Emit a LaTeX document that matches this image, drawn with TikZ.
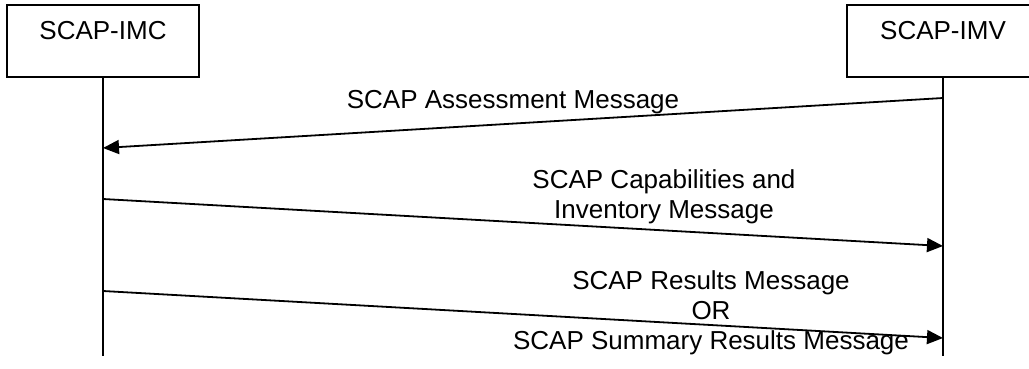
\documentclass[tikz,border=0pt]{standalone}
\usepackage{fontspec}
\setmainfont{Liberation Sans}
\usetikzlibrary{arrows.meta}
\tikzset{
  actor/.style={draw, line width=2pt, minimum width=192pt, minimum height=72pt, inner sep=0pt},
  lbl/.style={inner sep=0pt, align=center, font=\fontsize{26}{30}\selectfont},
  life/.style={line width=2pt},
  msg/.style={line width=1.8pt, -{Triangle[length=16pt,width=14pt]}}
}
\begin{document}
\begin{tikzpicture}[x=1pt,y=-1pt]
\useasboundingbox (0,0) rectangle (1029,368);
\clip (0,0) rectangle (1029,368);
\node[actor] (imc) at (103,41) {};
\node[actor] (imv) at (943,41) {};
\node[lbl] (imct) at (103,31) {SCAP-IMC};
\node[lbl] (imvt) at (943,31) {SCAP-IMV};
\coordinate (imcend) at (103,356);
\coordinate (imvend) at (943,356);
\draw[life] (imc.south) -- (imcend);
\draw[life] (imv.south) -- (imvend);
\coordinate (a1s) at (943,98);
\coordinate (a1e) at (103,148);
\coordinate (a2s) at (103,199);
\coordinate (a2e) at (943,246);
\coordinate (a3s) at (103,291);
\coordinate (a3e) at (943,338);
\draw[msg] (a1s) -- (a1e);
\draw[msg] (a2s) -- (a2e);
\draw[msg] (a3s) -- (a3e);
\node[lbl] (m1) at (513,102) {SCAP Assessment Message};
\node[lbl] (m2) at (664,197) {SCAP Capabilities and\\Inventory Message};
\node[lbl] (m3) at (711,313) {SCAP Results Message\\OR\\SCAP Summary Results Message};
\end{tikzpicture}
\end{document}
